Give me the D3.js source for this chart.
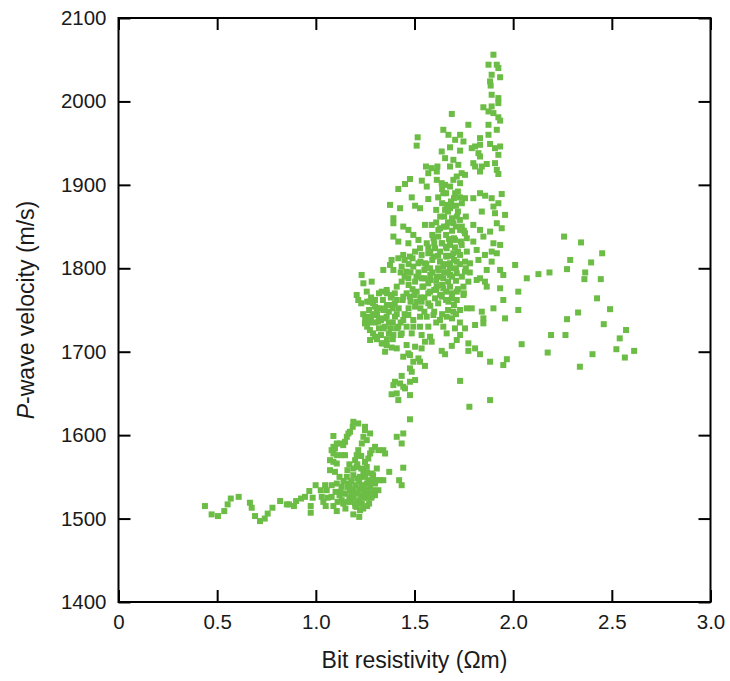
<!DOCTYPE html>
<html><head><meta charset="utf-8">
<script src="https://cdn.jsdelivr.net/npm/d3@7/dist/d3.min.js"></script>
<style>
html,body{margin:0;padding:0;background:#fff;}
svg{display:block;}
text{font-family:"Liberation Sans",Arial,Helvetica,sans-serif;}
</style></head>
<body>
<svg id="chart" width="730" height="681"></svg>
<script>
// ---- data: [bit resistivity (Ωm), P-wave velocity (m/s)] ----
const tailPoints = [
[0.438,1515],[0.472,1505],[0.504,1503],[0.536,1509],[0.553,1517],[0.569,1524],[0.609,1526],[0.666,1519],[0.675,1513],[0.692,1503],[0.717,1497],[0.741,1500],[0.756,1506],[0.780,1513],[0.819,1521],[0.853,1517],[0.864,1517],[0.889,1515],[0.900,1521],[0.925,1524],[0.945,1526],[0.967,1533],[0.974,1515],[0.974,1507],[0.984,1525],[0.999,1540]
];
const lowerCluster = [
[1.025,1534],[1.047,1540],[1.03,1526],[1.038,1520],[1.055,1534],[1.08,1526],[1.089,1515],[1.106,1509],[1.106,1542],[1.123,1532],[1.131,1522],[1.139,1518],[1.157,1550],[1.165,1542],[1.173,1534],[1.19,1526],[1.199,1518],[1.207,1514],[1.224,1510],[1.233,1518],[1.241,1526],[1.249,1534],[1.258,1542],[1.266,1546],[1.275,1538],[1.283,1526],[1.291,1534],[1.3,1542],[1.309,1546],[1.317,1534],[1.325,1546],[1.342,1546],[1.309,1560],[1.283,1554],[1.258,1562],[1.249,1568],[1.266,1572],[1.275,1578],[1.283,1582],[1.3,1586],[1.317,1582],[1.342,1582],[1.351,1578],[1.241,1556],[1.224,1550],[1.207,1562],[1.199,1570],[1.207,1576],[1.215,1582],[1.233,1590],[1.241,1598],[1.249,1606],[1.258,1594],[1.275,1602],[1.249,1610],[1.215,1614],[1.19,1616],[1.187,1610],[1.173,1604],[1.165,1602],[1.157,1598],[1.148,1592],[1.139,1588],[1.123,1590],[1.106,1590],[1.097,1584],[1.089,1586],[1.08,1582],[1.089,1578],[1.106,1576],[1.131,1576],[1.148,1576],[1.072,1570],[1.089,1568],[1.106,1566],[1.072,1558],[1.097,1556],[1.089,1599],[1.372,1556],[1.41,1598],[1.443,1602],[1.435,1590],[1.477,1619],[1.443,1561],[1.422,1546],[1.435,1540],
[1.15,1530],[1.16,1538],[1.18,1545],[1.2,1540],[1.21,1548],[1.22,1535],[1.23,1528],[1.19,1552],[1.17,1525],[1.14,1545],[1.13,1538],[1.25,1550],[1.26,1525],[1.27,1530],[1.24,1540],[1.18,1520],[1.2,1530],[1.22,1545],[1.16,1558],[1.21,1520],[1.12,1528],[1.1,1532],[1.28,1545],[1.3,1528],[1.23,1560],[1.24,1512],[1.26,1515],[1.19,1505],[1.22,1502],[1.15,1512],[1.06,1525],[1.08,1540],[1.11,1520],[1.05,1515],[1.27,1518],
[1.17,1540],[1.19,1535],[1.21,1530],[1.23,1538],[1.25,1530],[1.18,1530],[1.2,1515],[1.22,1522],[1.24,1525],[1.26,1535],[1.28,1525],[1.16,1520],[1.14,1530],[1.19,1560],[1.21,1565],[1.17,1565],[1.23,1575],[1.26,1555],[1.29,1552],[1.12,1550]
];
const upperColumn = [
[1.900,2056],[1.875,2044],[1.917,2044],[1.925,2040],[1.891,2032],[1.934,2029],[1.883,2024],[1.886,2019],[1.891,2008],[1.925,2004],[1.925,1998],[1.849,1993],[1.891,1994],[1.875,1988],[1.900,1986],[1.925,1981],[1.934,1977],[1.689,1985],[1.773,1972],[1.875,1972],[1.917,1966],[1.646,1966],[1.672,1960],[1.706,1954],[1.731,1960],[1.748,1952],[1.832,1956],[1.875,1960],[1.807,1946],[1.790,1944],[1.832,1948],[1.680,1945],[1.731,1941],[1.638,1940],[1.883,1949],[1.908,1944],[1.934,1946],[1.925,1936],[1.824,1938],[1.832,1934],[1.655,1932],[1.697,1930],[1.680,1922],[1.798,1926],[1.841,1922],[1.832,1916],[1.807,1922],[1.866,1925],[1.908,1926],[1.917,1918],[1.925,1913],[1.722,1924],[1.739,1914],[1.756,1912],[1.714,1910],[1.697,1906],[1.638,1902],[1.655,1900],[1.731,1902],[1.706,1890],[1.756,1884],[1.798,1884],[1.832,1890],[1.858,1887],[1.891,1884],[1.942,1889],[1.925,1878],[1.900,1874],[1.841,1868],[1.908,1866],[1.959,1864],[1.646,1890],[1.663,1876],
[1.516,1957],[1.511,1947],[1.558,1922],[1.587,1920],[1.616,1922],[1.57,1914],[1.613,1916],[1.477,1907],[1.452,1901],[1.418,1895],[1.537,1905],[1.562,1898],[1.613,1906],[1.486,1885],[1.57,1883],[1.376,1876],[1.427,1872],[1.503,1875],[1.528,1872],[1.393,1860]
];
const mainCluster = [
[1.393,1854],[1.443,1850],[1.469,1846],[1.494,1840],[1.52,1834],[1.553,1852],[1.587,1852],[1.621,1846],[1.663,1850],[1.697,1854],[1.731,1846],[1.756,1842],[1.798,1852],[1.832,1846],[1.849,1838],[1.883,1844],[1.917,1854],[1.942,1848],[1.393,1838],[1.418,1832],[1.469,1830],[1.528,1824],[1.562,1830],[1.596,1836],[1.604,1824],[1.638,1830],[1.663,1824],[1.68,1830],[1.705,1834],[1.739,1828],[1.765,1836],[1.798,1832],[1.815,1822],[1.765,1820],[1.731,1816],[1.697,1818],[1.663,1814],[1.629,1808],[1.596,1814],[1.57,1818],[1.536,1816],[1.503,1820],[1.477,1814],[1.443,1816],[1.418,1812],[1.384,1810],[1.376,1804],[1.342,1798],[1.393,1798],[1.435,1802],[1.46,1796],[1.494,1802],[1.52,1806],[1.553,1806],[1.579,1800],[1.621,1798],[1.646,1802],[1.68,1806],[1.714,1808],[1.756,1808],[1.781,1806],[1.824,1810],[1.857,1816],[1.891,1820],[1.9,1830],[1.934,1828],[1.917,1818],[1.891,1808],[1.866,1798],[1.934,1798],[1.95,1792],[2.01,1804],[2.069,1788],[2.026,1772],[1.95,1762],[2.026,1750],[1.959,1740],
[1.232,1792],[1.241,1782],[1.283,1784],[1.258,1772],[1.207,1768],[1.215,1762],[1.274,1760],[1.3,1754],[1.334,1772],[1.359,1774],[1.384,1768],[1.41,1778],[1.435,1784],[1.469,1788],[1.503,1784],[1.536,1788],[1.579,1786],[1.613,1790],[1.646,1788],[1.68,1792],[1.714,1794],[1.756,1796],[1.773,1784],[1.748,1778],[1.714,1772],[1.68,1778],[1.646,1776],[1.613,1778],[1.579,1772],[1.545,1778],[1.511,1772],[1.477,1766],[1.443,1766],[1.41,1762],[1.376,1756],[1.342,1750],[1.308,1746],[1.266,1742],[1.249,1734],[1.274,1726],[1.3,1718],[1.393,1720],[1.418,1730],[1.443,1738],[1.469,1744],[1.503,1754],[1.536,1760],[1.57,1758],[1.604,1764],[1.638,1766],[1.672,1760],[1.689,1764],[1.714,1762],[1.748,1768],[1.765,1752],[1.79,1752],[1.731,1750],[1.697,1748],[1.663,1742],[1.629,1738],[1.596,1744],[1.562,1742],[1.528,1742],[1.494,1738],[1.46,1730],[1.435,1722],[1.486,1722],[1.494,1730],[1.528,1730],[1.536,1720],[1.579,1718],[1.705,1728],[1.731,1720],[1.756,1728],[1.807,1732],[1.815,1786],[1.832,1788],[1.857,1784],[1.866,1778],[1.841,1748],[1.849,1740],[1.849,1734],[1.9,1752],[1.934,1776],[1.317,1736],[1.342,1728],[1.359,1742],[1.401,1742],[1.646,1730],[1.663,1722],
[1.275,1714],[1.334,1710],[1.359,1708],[1.384,1705],[1.41,1704],[1.351,1700],[1.46,1708],[1.469,1698],[1.503,1706],[1.536,1704],[1.553,1712],[1.587,1712],[1.638,1701],[1.655,1697],[1.689,1707],[1.714,1714],[1.773,1710],[1.773,1701],[1.807,1704],[1.832,1697],[1.883,1688],[1.95,1684],[1.968,1691],[2.043,1709],[1.443,1694],[1.477,1696],[1.494,1688],[1.52,1692],[1.528,1688],[1.477,1680],[1.486,1676],[1.553,1683],[1.435,1671],[1.401,1664],[1.393,1660],[1.427,1662],[1.452,1656],[1.477,1664],[1.503,1666],[1.443,1658],[1.41,1650],[1.384,1649],[1.418,1642],[1.477,1648],[1.731,1665],[1.883,1642],[1.778,1634]
];
const denseCores = [
[1.62,1885],[1.64,1878],[1.66,1890],[1.68,1872],[1.70,1884],[1.72,1868],[1.74,1878],[1.65,1862],[1.67,1855],[1.69,1860],[1.71,1850],[1.73,1858],[1.75,1845],[1.63,1848],[1.66,1840],[1.70,1836],[1.64,1895],[1.68,1898],[1.72,1892],[1.61,1870],[1.76,1862],[1.69,1845],[1.655,1870],[1.685,1880],[1.715,1862],[1.74,1850],[1.675,1835],[1.705,1825],[1.735,1832],
[1.52,1795],[1.55,1788],[1.58,1792],[1.61,1785],[1.64,1780],[1.67,1784],[1.54,1778],[1.57,1770],[1.60,1774],[1.63,1768],[1.66,1772],[1.69,1770],[1.56,1805],[1.59,1810],[1.62,1800],[1.65,1795],[1.68,1800],[1.71,1785],[1.53,1765],[1.58,1755],[1.62,1758],[1.66,1762],[1.70,1756],[1.64,1745],[1.60,1748],[1.72,1775],[1.74,1790],[1.76,1800],[1.78,1795],[1.75,1770],[1.63,1820],[1.66,1826],[1.6,1830],[1.69,1815],[1.72,1820],
[1.27,1750],[1.29,1758],[1.31,1744],[1.33,1752],[1.35,1740],[1.37,1748],[1.39,1735],[1.41,1745],[1.30,1735],[1.32,1728],[1.34,1762],[1.36,1756],[1.38,1765],[1.40,1758],[1.42,1752],[1.28,1740],[1.26,1730],[1.29,1722],[1.31,1715],[1.33,1720],[1.35,1730],[1.37,1722],[1.39,1715],[1.43,1735],[1.45,1745],[1.47,1752],[1.44,1762],[1.46,1770],[1.48,1760],[1.50,1768],[1.24,1745],[1.23,1758],
[1.47,1805],[1.49,1812],[1.51,1790],[1.53,1808],[1.55,1798],[1.57,1782],[1.59,1795],[1.61,1775],[1.63,1790],[1.65,1805],[1.67,1795],[1.69,1790],[1.71,1800],[1.73,1805],[1.57,1825],[1.59,1840],[1.61,1855],[1.63,1862],[1.65,1850],[1.67,1868],[1.69,1875],[1.71,1875],[1.73,1885],[1.62,1838],[1.64,1830],[1.68,1828],[1.70,1810],[1.66,1815],[1.62,1815],[1.58,1820],[1.55,1765],[1.51,1760],[1.49,1775],[1.47,1780],[1.45,1790],[1.43,1795],[1.45,1810],[1.48,1795],[1.67,1750],[1.69,1740],[1.71,1745],[1.73,1735],[1.61,1735],[1.57,1730],[1.55,1748],[1.53,1752],
[1.26,1760],[1.28,1765],[1.25,1740],[1.27,1735],[1.29,1745],[1.31,1752],[1.33,1738],[1.35,1750],[1.37,1735],[1.39,1752],[1.41,1728],[1.43,1720],[1.38,1728],[1.36,1715],[1.34,1710],[1.32,1740],[1.30,1762],[1.32,1770],[1.36,1770],[1.40,1770]
];
const rightScatter = [
[2.128,1793],[2.184,1795],[2.258,1838],[2.344,1831],[2.451,1818],[2.289,1810],[2.395,1807],[2.273,1799],[2.365,1795],[2.361,1787],[2.444,1787],[2.425,1764],[2.491,1751],[2.329,1747],[2.273,1739],[2.459,1733],[2.572,1726],[2.192,1720],[2.265,1720],[2.54,1716],[2.523,1703],[2.613,1701],[2.566,1693],[2.175,1699],[2.402,1697],[2.338,1682]
];
const xTicks = [0, 0.5, 1.0, 1.5, 2.0, 2.5, 3.0];
const yTicks = [1400, 1500, 1600, 1700, 1800, 1900, 2000, 2100];
const xLabel = "Bit resistivity (Ωm)";
const yLabelItalic = "P";
const yLabelRest = "-wave velocity (m/s)";

const points = [].concat(tailPoints, lowerCluster, upperColumn, mainCluster, denseCores, rightScatter);

const svg = d3.select("#chart");
const L = 118.5, R = 710.5, T = 18, B = 602;
const x = d3.scaleLinear().domain([0, 3]).range([L, R]);
const y = d3.scaleLinear().domain([1400, 2100]).range([B, T]);

// points
svg.append("g").selectAll("rect").data(points).join("rect")
  .attr("x", d => x(d[0]) - 3)
  .attr("y", d => y(d[1]) - 3)
  .attr("width", 6).attr("height", 6)
  .attr("fill", "#6cbd45");

const tickLen = 12;
const fmtX = d3.format(".1f");
function styleAxis(g){
  g.select(".domain").remove();
  g.selectAll(".tick line").attr("stroke", "#000").attr("stroke-width", 2);
  g.selectAll(".tick text").attr("fill", "#1a1a1a").style("font-size", "20.5px")
    .style("font-family", '"Liberation Sans", Arial, Helvetica, sans-serif');
}
svg.append("g").attr("transform", `translate(0,${B})`)
  .call(d3.axisBottom(x).tickValues(xTicks).tickFormat(d => d === 0 ? "0" : fmtX(d)).tickSizeInner(-tickLen).tickSizeOuter(0).tickPadding(12))
  .call(styleAxis);
svg.append("g").attr("transform", `translate(0,${T})`)
  .call(d3.axisTop(x).tickValues(xTicks).tickFormat("").tickSizeInner(-tickLen).tickSizeOuter(0))
  .call(styleAxis);
svg.append("g").attr("transform", `translate(${L},0)`)
  .call(d3.axisLeft(y).tickValues(yTicks).tickFormat(d3.format("d")).tickSizeInner(-tickLen).tickSizeOuter(0).tickPadding(12))
  .call(styleAxis);
svg.append("g").attr("transform", `translate(${R},0)`)
  .call(d3.axisRight(y).tickValues(yTicks).tickFormat("").tickSizeInner(-tickLen).tickSizeOuter(0))
  .call(styleAxis);

// frame
svg.append("rect").attr("x", L).attr("y", T).attr("width", R - L).attr("height", B - T)
  .attr("fill", "none").attr("stroke", "#000").attr("stroke-width", 2);

// axis titles
svg.append("text").attr("x", (L + R) / 2).attr("y", 668).attr("text-anchor", "middle")
  .style("font-size", "23px").attr("fill", "#1a1a1a").text(xLabel);
const yt = svg.append("text").attr("transform", `translate(34,${(T + B) / 2}) rotate(-90)`)
  .attr("text-anchor", "middle").style("font-size", "23px").attr("fill", "#1a1a1a");
yt.append("tspan").style("font-style", "italic").text(yLabelItalic);
yt.append("tspan").text(yLabelRest);
</script>
</body></html>
